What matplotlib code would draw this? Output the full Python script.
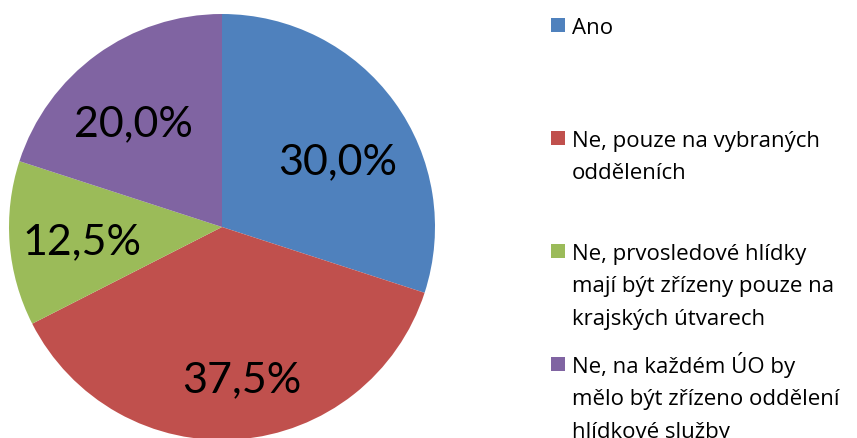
import matplotlib
matplotlib.use("Agg")
import matplotlib.pyplot as plt
from matplotlib.patches import Rectangle

# data
labels = ["Ano",
          "Ne, pouze na vybraných\nodděleních",
          "Ne, prvosledové hlídky\nmají být zřízeny pouze na\nkrajských útvarech",
          "Ne, na každém ÚO by\nmělo být zřízeno oddělení\nhlídkové služby"]
values = [30.0, 37.5, 12.5, 20.0]
colors = ["#4F81BD", "#C0504D", "#9BBB59", "#8064A2"]

W, H = 857, 439
fig = plt.figure(figsize=(W / 100, H / 100), dpi=100)

# pie axes: centre (222, 228) px, radius 213 px
cx, cy, r = 222, 228, 213
ax = fig.add_axes([(cx - r) / W, (H - cy - r) / H, 2 * r / W, 2 * r / H])
wedges, texts, autotexts = ax.pie(
    values, colors=colors, startangle=90, counterclock=False,
    autopct=lambda p: f"{p:.1f}".replace(".", ",") + "%",
    pctdistance=0.67, radius=1,
    wedgeprops=dict(linewidth=0),
    textprops=dict(fontsize=31, family="Lato", color="black"))
# small nudges so labels sit like Excel's "best fit"
nudge = [(0.0, -0.07), (0.04, -0.03), (0.01, 0.0), (-0.02, -0.04)]
for t, (dx, dy) in zip(autotexts, nudge):
    t.set_va("center_baseline")
    x, y = t.get_position()
    t.set_position((x + dx, y + dy))
ax.set_xlim(-1, 1)
ax.set_ylim(-1, 1)
ax.set_aspect("equal")
ax.axis("off")

# legend drawn by hand, Excel-style spacing
first_base = 34
entry_step = 113
line_step = 32.3
sq = 14
for i, (lab, col) in enumerate(zip(labels, colors)):
    y0 = first_base + entry_step * i
    fig.patches.append(Rectangle((551 / W, 1 - (y0 - 1) / H), sq / W, sq / H,
                                 transform=fig.transFigure, facecolor=col,
                                 edgecolor="none"))
    for j, line in enumerate(lab.split("\n")):
        fig.text(572 / W, 1 - (y0 + j * line_step) / H, line,
                 fontsize=16, family="Open Sans", va="baseline", ha="left")

fig.savefig("out.png", dpi=100)
